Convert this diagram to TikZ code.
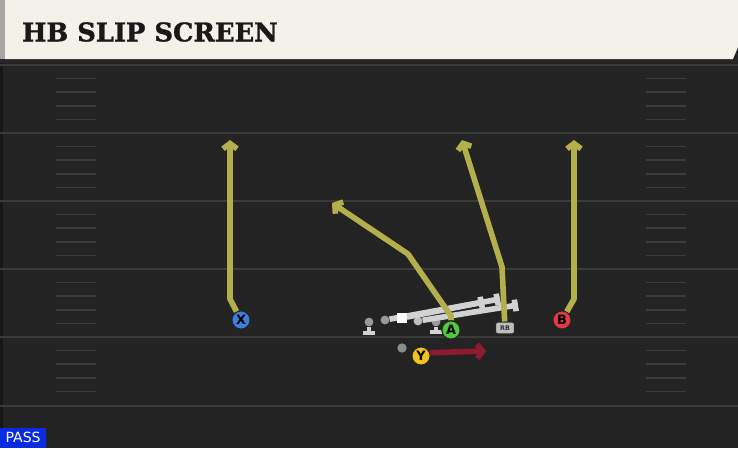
\documentclass[tikz,border=0pt]{standalone}
\usepackage{fontspec}
\setmainfont{DejaVu Serif}
\setsansfont{DejaVu Sans}
\newfontfamily\titlefont[UprightFont={* Bold}, FakeBold=1.2]{DejaVu Serif}
\usetikzlibrary{arrows.meta}

\definecolor{fieldbg}{HTML}{232323}
\definecolor{yardcol}{HTML}{3A3A3A}
\definecolor{hashcol}{HTML}{3C3C3C}
\definecolor{headbg}{HTML}{F4F1EA}
\definecolor{routecol}{HTML}{B3AF4A}
\definecolor{blockcol}{HTML}{D2D2D2}
\definecolor{runcol}{HTML}{8E1A32}
\definecolor{xcol}{HTML}{3C7FE0}
\definecolor{acol}{HTML}{4FCB3A}
\definecolor{bcol}{HTML}{E23A45}
\definecolor{ycol}{HTML}{F1C21B}
\definecolor{passcol}{HTML}{0A2BE0}

\tikzset{
  player/.style={circle, draw=black!85, line width=0.9pt, minimum size=15.5pt, inner sep=0pt,
    font=\sffamily\bfseries\fontsize{11}{11}\selectfont},
  rbbox/.style={rounded corners=2pt, draw=black!85, fill=black!25, line width=0.7pt,
    minimum width=16pt, minimum height=10pt, inner sep=0pt,
    font=\sffamily\bfseries\fontsize{5.5}{5.5}\selectfont, text=black!80},
  lineman/.style={circle, fill=black!40, minimum size=7.5pt, inner sep=0pt},
  centersq/.style={fill=white, minimum size=8pt, inner sep=0pt},
  route/.style={routecol, line width=4.8pt, line join=round,
    -{Straight Barb[length=4.5pt, width=12pt]}},
  runroute/.style={runcol, line width=4.8pt, -{Straight Barb[length=4.5pt, width=12pt]}},
  block/.style={blockcol, line width=4.8pt, -{Bar[width=10pt]}},
  yardline/.style={yardcol, line width=1.8pt},
  hashmark/.style={hashcol, line width=1.4pt}
}

\begin{document}
\begin{tikzpicture}[x=0.03cm, y=-0.03cm]
  \fill[fieldbg] (0,0) rectangle (738,448);
  \useasboundingbox (0,0) rectangle (738,448);
  \fill[black!35!fieldbg] (0,62) rectangle (2.5,448);

  %% yard lines and hash marks
  \foreach \y in {65,133,201,269,337,406}
    \draw[yardline] (0,\y) -- (738,\y);
  \foreach \y in {65,133,201,269,337}
    \foreach \k in {1,...,4} {
      \draw[hashmark] (56,\y+\k*13.6) -- (96,\y+\k*13.6);
      \draw[hashmark] (646,\y+\k*13.6) -- (686,\y+\k*13.6);
    }

  %% header
  \fill[black!85] (0,58) rectangle (738,63);
  \fill[headbg] (5,0) -- (738,0) -- (738,47) -- (733,59) -- (5,59) -- cycle;
  \fill[black!35] (0,0) rectangle (5,59);
  \node[anchor=west, font=\titlefont\fontsize{22}{22}\selectfont, text=black!90] (title) at (18,32) {HB SLIP SCREEN};

  %% play type
  \node[anchor=south west, fill=passcol, text=white, minimum width=39pt, minimum height=17pt,
    inner sep=1pt, font=\sffamily\fontsize{12}{12}\selectfont] (playtype) at (0,448) {PASS};

  %% line
  \node[lineman] (LT) at (369,322) {};
  \node[lineman] (LG) at (385,320) {};
  \node[lineman, fill=black!25] (RG) at (418,321) {};
  \node[lineman] (RT) at (436,322) {};
  \coordinate (ltset) at (369,335);
  \coordinate (rtset) at (436,334);
  \coordinate (lgend) at (500,299);
  \coordinate (cend) at (484,302);
  \coordinate (rgend) at (518,305);
  \draw[block, line width=3.4pt] (LT) -- (ltset);
  \draw[block, line width=3.4pt] (RT) -- (rtset);
  \draw[block] (LG) -- (lgend);
  \draw[block] (RG) -- (rgend);
  \node[centersq] (C) at (402,318) {};
  \draw[block] (C) -- (cend);

  %% skill players
  \node[player, fill=xcol] (X) at (241,320) {X};
  \node[player, fill=acol] (A) at (451,330) {A};
  \node[player, fill=bcol] (B) at (562,320) {B};
  \node[player, fill=ycol] (Y) at (421,356) {Y};
  \node[rbbox] (RB) at (505,328) {RB};
  \node[lineman, minimum size=8pt, fill=black!45] (ymotion) at (402,348) {};

  %% routes
  \coordinate (xbreak) at (230,299);
  \coordinate (xend) at (230,140);
  \coordinate (abreak) at (451,316);
  \coordinate (acut) at (408,254);
  \coordinate (aend) at (332,203);
  \coordinate (rbbreak) at (502,267);
  \coordinate (rbend) at (462,140);
  \coordinate (bbreak) at (574,299);
  \coordinate (bend) at (574,140);
  \coordinate (yend) at (486,351);
  \draw[route] (X) -- (xbreak) -- (xend);
  \draw[route] (A) -- (abreak) -- (acut) -- (aend);
  \draw[route] (RB) -- (rbbreak) -- (rbend);
  \draw[route] (B) -- (bbreak) -- (bend);
  \draw[runroute] (Y.20) -- (yend);
  \node[player, fill=acol] at (A) {A};
  \node[rbbox] at (RB) {RB};
\end{tikzpicture}
\end{document}
